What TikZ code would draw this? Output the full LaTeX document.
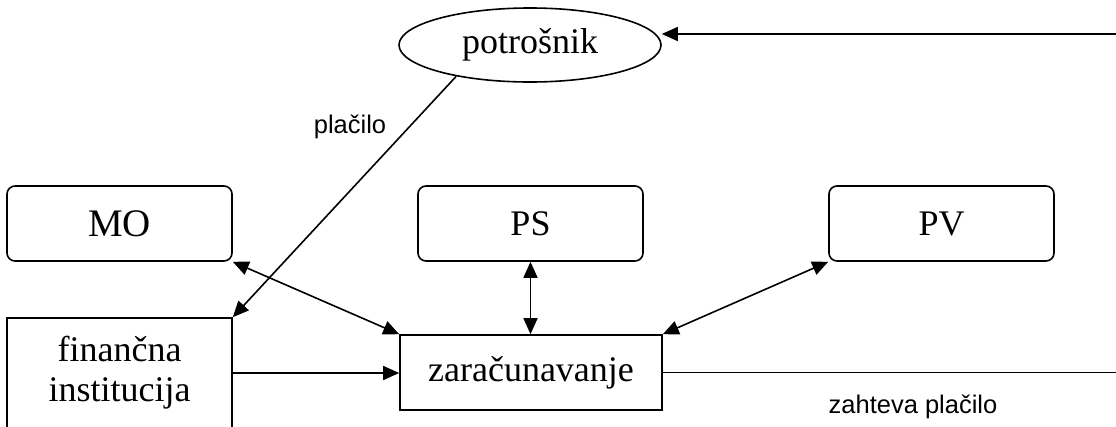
\documentclass[tikz,border=0pt]{standalone}
\usepackage{fontspec}
\setmainfont{Liberation Serif}
\newfontfamily\labelfont{Liberation Sans}
\usetikzlibrary{arrows.meta,positioning,shapes.geometric}

\begin{document}
\begin{tikzpicture}[
    x=1pt,y=-1pt,
    line width=1.6pt,
    unit/.style={draw,rounded corners=8pt,minimum width=225pt,minimum height=75pt,font=\fontsize{36}{40}\selectfont},
    plainbox/.style={draw,align=center,font=\fontsize{36}{40}\selectfont},
    arrow/.style={-{Triangle[length=16pt,width=14pt]}},
    both/.style={{Triangle[length=16pt,width=14pt]}-{Triangle[length=16pt,width=14pt]}},
    note/.style={font=\labelfont\fontsize{25.5}{28}\selectfont}
  ]
  \useasboundingbox (0,0) rectangle (1116,426);
  \node[draw,ellipse,minimum width=262pt,minimum height=74pt,inner sep=0pt,font=\fontsize{36}{40}\selectfont] (pot) at (530,45) {potrošnik};
  \node[unit,font=\fontsize{39}{42}\selectfont] (MO) at (119.5,223.5) {MO};
  \node[unit] (PS) at (530.5,223.5) {PS};
  \node[unit] (PV) at (941.5,223.5) {PV};
  \node[plainbox,minimum width=225pt,minimum height=110pt] (fin) at (119.5,373) {finančna\\institucija};
  \node[plainbox,minimum width=262pt,minimum height=75pt] (zar) at (531,372.5) {zaračunavanje};
  \coordinate (rb) at (1122,372.5);
  \coordinate (rt) at (1122,34);
  \draw[arrow] (pot.203) -- (fin.north east);
  \draw[both] (MO.south east) -- (zar.north west);
  \draw[both] (PS.south) -- (PS.south |- zar.north);
  \draw[both] (PV.south west) -- (zar.north east);
  \draw[arrow] (fin.east) -- (fin.east -| zar.west);
  \draw[arrow] (zar.east) -- (rb) -- (rt) -- (pot.east |- rt);
  \node[note] (pay) at (350,127) {plačilo};
  \node[note] (req) at (913,407) {zahteva plačilo};
\end{tikzpicture}
\end{document}
